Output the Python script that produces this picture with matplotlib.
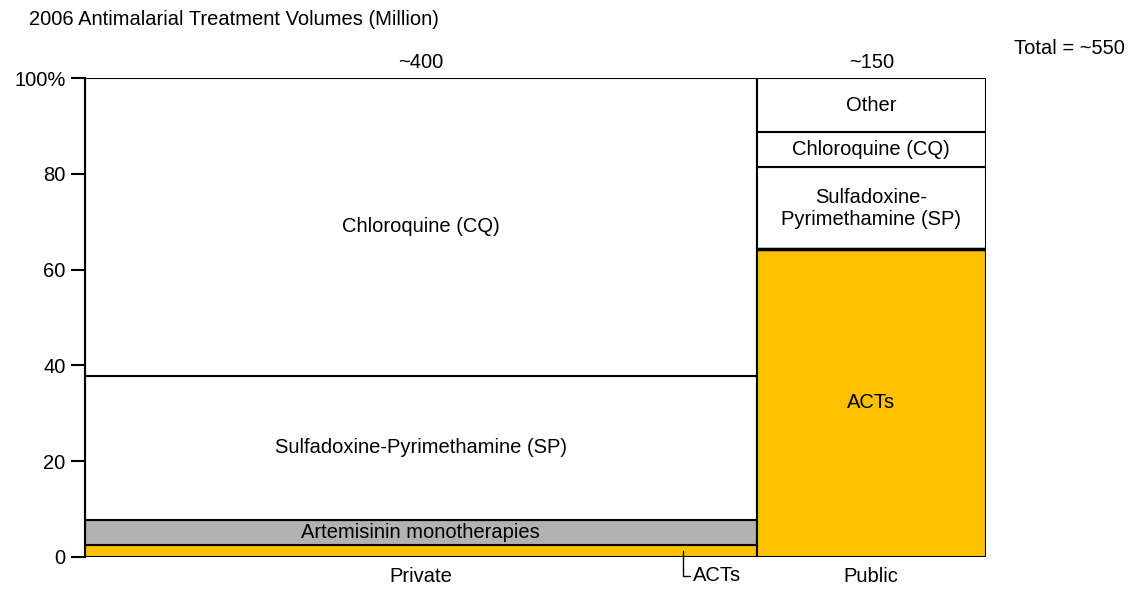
import matplotlib
matplotlib.use('Agg')
import matplotlib.pyplot as plt
import numpy as np

plt.rcParams['font.family'] = ['Liberation Sans', 'DejaVu Sans']

# Données
sectors = ['Private', 'Public']
sector_volumes = [410, 140]          # largeur des colonnes (millions)
volume_labels = ['~400', '~150']
total_label = 'Total = ~550'

private_names = ['ACTs', 'Artemisinin monotherapies',
                 'Sulfadoxine-Pyrimethamine (SP)', 'Chloroquine (CQ)']
private_shares = [2.5, 5.3, 30.0, 62.2]
private_colors = ['#FFC000', '#B2B2B2', 'white', 'white']

public_names = ['ACTs', 'Sulfadoxine-\nPyrimethamine (SP)', 'Chloroquine (CQ)', 'Other']
public_shares = [64.3, 17.1, 7.3, 11.3]
public_colors = ['#FFC000', 'white', 'white', 'white']

FS = 14.5

fig = plt.figure(figsize=(11.32, 6.02), dpi=100)
ax = fig.add_axes([0.0751, 0.0748, 0.7959, 0.7956])

lefts = np.concatenate([[0], np.cumsum(sector_volumes)[:-1]])
total = sum(sector_volumes)

for left, width, shares, names, colors in [
        (lefts[0], sector_volumes[0], private_shares, private_names, private_colors),
        (lefts[1], sector_volumes[1], public_shares, public_names, public_colors)]:
    bottom = 0
    for share, name, col in zip(shares, names, colors):
        ax.bar(left, share, width=width, bottom=bottom, align='edge',
               color=col, edgecolor='black', linewidth=1.5)
        if not (left == 0 and name == 'ACTs'):
            ax.text(left + width / 2, bottom + share / 2, name,
                    ha='center', va='center', fontsize=FS)
        bottom += share

# Trait plus épais au sommet des ACTs publics
ax.plot([lefts[1], lefts[1] + sector_volumes[1]], [public_shares[0]] * 2,
        color='black', lw=2.5, solid_capstyle='butt')

# Étiquette ACTs du privé (callout)
ax.annotate('ACTs', xy=(lefts[0] + sector_volumes[0] * 0.89, private_shares[0] / 2),
            xytext=(lefts[0] + sector_volumes[0] * 0.905, -3.9),
            ha='left', va='center', fontsize=FS, annotation_clip=False,
            arrowprops=dict(arrowstyle='-', color='black', lw=1,
                            connectionstyle='angle,angleA=0,angleB=90,rad=0',
                            shrinkA=0, shrinkB=0))

# Volumes au-dessus
for left, width, lab in zip(lefts, sector_volumes, volume_labels):
    ax.text(left + width / 2, 101.3, lab, ha='center', va='bottom', fontsize=FS)

ax.set_xlim(0, total)
ax.set_ylim(0, 100)
ax.set_xticks(lefts + np.array(sector_volumes) / 2)
ax.set_xticklabels(sectors, fontsize=FS)
ax.tick_params(axis='x', length=0, pad=7)
ax.set_yticks([0, 20, 40, 60, 80, 100])
ax.set_yticklabels(['0', '20', '40', '60', '80', '100%'], fontsize=FS)
ax.tick_params(axis='y', length=10, width=1.5, pad=4)

for s in ['top', 'right', 'bottom']:
    ax.spines[s].set_visible(False)
ax.spines['left'].set_linewidth(1.5)

fig.text(0.026, 0.968, '2006 Antimalarial Treatment Volumes (Million)',
         ha='left', va='center', fontsize=FS)
fig.text(0.994, 0.92, total_label, ha='right', va='center', fontsize=FS)

fig.savefig('out.png', dpi=100)
